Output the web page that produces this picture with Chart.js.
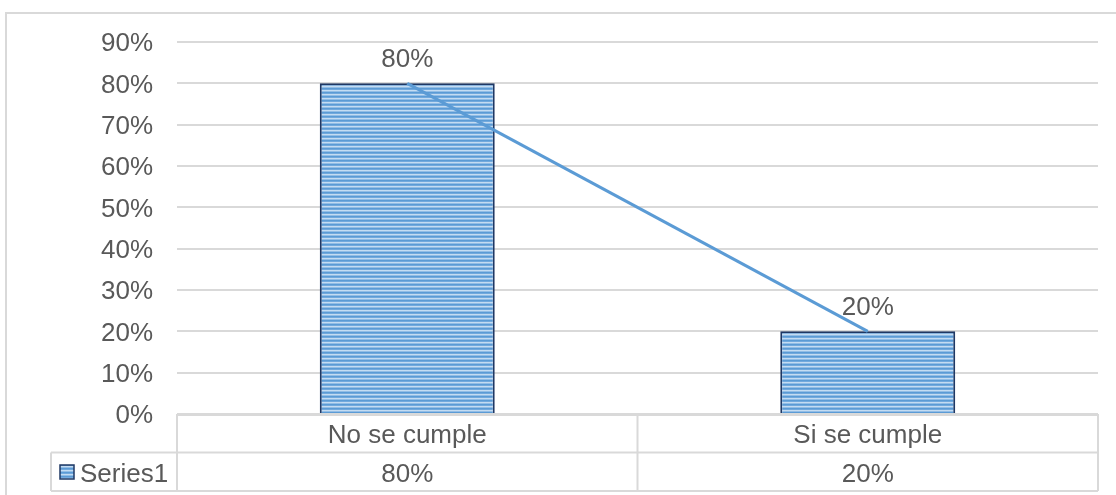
<!DOCTYPE html>
<html>
<head>
<meta charset="utf-8">
<script src="https://cdn.jsdelivr.net/npm/chart.js@4.4.1/dist/chart.umd.min.js"></script>
<style>
  html, body { margin: 0; padding: 0; background: #ffffff; }
  #wrap { position: relative; width: 1116px; height: 495px; }
  canvas { display: block; }
</style>
</head>
<body>
<div id="wrap"><canvas id="c" width="1116" height="495"></canvas></div>
<script>
// ---- data ----
const categories = ['No se cumple', 'Si se cumple'];
const seriesName = 'Series1';
const seriesValues = [80, 20];
const yTicks = [0, 10, 20, 30, 40, 50, 60, 70, 80, 90];

const FONT = "'Liberation Sans', Arial, sans-serif";
const TEXT = '#595959';
const GRID = '#D9D9D9';

function makePattern() {
  const p = document.createElement('canvas');
  p.width = 4; p.height = 4;
  const g = p.getContext('2d');
  const rows = ['#5B9BD5', '#72A9DD', '#C4DCF2', '#92BDE6'];
  rows.forEach((c, i) => { g.fillStyle = c; g.fillRect(0, i, 4, 1); });
  return g.createPattern(p, 'repeat');
}
const ctx0 = document.getElementById('c').getContext('2d');
const barPattern = makePattern();

const tablePlugin = {
  id: 'tablePlugin',
  afterDraw(chart) {
    const ctx = chart.ctx;
    const ca = chart.chartArea;
    const xs = chart.scales.x;
    ctx.save();
    // outer frame
    ctx.strokeStyle = GRID;
    ctx.lineWidth = 2;
    ctx.beginPath();
    ctx.moveTo(6, 495); ctx.lineTo(6, 13); ctx.lineTo(1116, 13);
    ctx.stroke();

    const left = ca.left, right = ca.right;
    const rowTop = ca.bottom, rowMid = 452.5, rowBot = 491;
    const legLeft = 51;
    ctx.lineWidth = 2;
    ctx.strokeStyle = GRID;
    ctx.beginPath();
    ctx.moveTo(left, rowTop + 1); ctx.lineTo(right, rowTop + 1);
    ctx.moveTo(legLeft, rowMid); ctx.lineTo(right, rowMid);
    ctx.moveTo(legLeft, rowBot); ctx.lineTo(right, rowBot);
    ctx.moveTo(legLeft, rowMid); ctx.lineTo(legLeft, rowBot);
    ctx.moveTo(left, rowTop); ctx.lineTo(left, rowBot);
    ctx.moveTo(right, rowTop); ctx.lineTo(right, rowBot);
    // category dividers
    for (let i = 1; i < categories.length; i++) {
      const xm = (xs.getPixelForValue(i - 1) + xs.getPixelForValue(i)) / 2;
      ctx.moveTo(xm, rowTop); ctx.lineTo(xm, rowBot);
    }
    ctx.stroke();

    // values row
    ctx.fillStyle = TEXT;
    ctx.font = '26px ' + FONT;
    ctx.textAlign = 'center';
    ctx.textBaseline = 'middle';
    seriesValues.forEach((v, i) => {
      ctx.fillText(v + '%', xs.getPixelForValue(i), 475);
    });
    // legend key
    ctx.fillStyle = barPattern;
    ctx.fillRect(60, 465, 14, 14);
    ctx.strokeStyle = '#1F3864';
    ctx.lineWidth = 1.5;
    ctx.strokeRect(60, 465, 14, 14);
    ctx.fillStyle = TEXT;
    ctx.textAlign = 'left';
    ctx.fillText(seriesName, 80, 475);

    // data labels above bars
    const ys = chart.scales.y;
    ctx.textAlign = 'center';
    seriesValues.forEach((v, i) => {
      ctx.fillText(v + '%', xs.getPixelForValue(i), ys.getPixelForValue(v) - 24);
    });
    ctx.restore();
  }
};

new Chart(ctx0, {
  data: {
    labels: categories,
    datasets: [
      {
        type: 'line',
        label: seriesName + ' line',
        data: seriesValues,
        borderColor: '#5B9BD5',
        borderWidth: 3,
        pointRadius: 0,
        fill: false,
        tension: 0,
        order: 0
      },
      {
        type: 'bar',
        label: seriesName,
        data: seriesValues,
        backgroundColor: barPattern,
        borderColor: '#1F3864',
        borderWidth: 2,
        barPercentage: 0.38,
        categoryPercentage: 1,
        order: 1
      }
    ]
  },
  options: {
    responsive: false,
    animation: false,
    devicePixelRatio: 1,
    layout: { padding: { top: 42, right: 18, bottom: 0, left: 0 } },
    plugins: { legend: { display: false }, tooltip: { enabled: false } },
    scales: {
      x: {
        grid: { display: false, drawTicks: false },
        border: { display: false },
        ticks: {
          color: TEXT,
          font: { family: FONT, size: 26 },
          padding: 6,
          maxRotation: 0,
          autoSkip: false
        },
        afterFit(s) { s.height = 81; }
      },
      y: {
        min: 0,
        max: 90,
        afterBuildTicks(s) { s.ticks = yTicks.map(v => ({ value: v })); },
        grid: { color: GRID, lineWidth: 2, drawTicks: false },
        border: { display: false },
        ticks: {
          color: TEXT,
          font: { family: FONT, size: 26 },
          padding: 24,
          labelOffset: 2,
          callback: v => v + '%'
        },
        afterFit(s) { s.width = 177; }
      }
    }
  },
  plugins: [tablePlugin]
});
</script>
</body>
</html>
